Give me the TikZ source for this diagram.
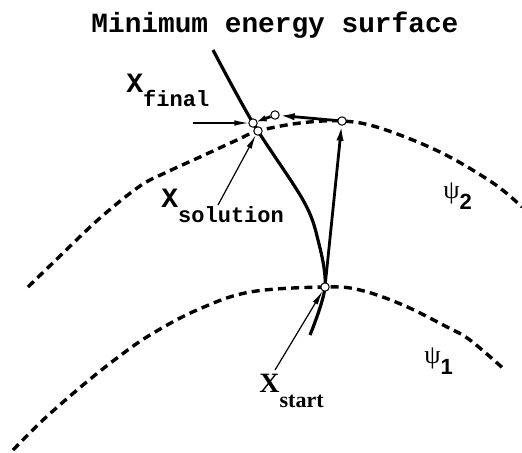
\documentclass[tikz,border=0pt]{standalone}
\usepackage{fontspec}
\setmainfont{Liberation Serif}
\newfontfamily\monofont{Liberation Mono}
\newfontfamily\sansfont{Liberation Sans}
\usepackage{tikz}
\usetikzlibrary{arrows.meta,calc,backgrounds}

% labels: big letter with a dropped subscript
\newcommand{\monolbl}[3]{{\monofont\bfseries\fontsize{14}{14}\selectfont #1}\raisebox{-#3}{\monofont\bfseries\fontsize{11}{11}\selectfont #2}}
\newcommand{\serlbl}[3]{{\bfseries\fontsize{14}{14}\selectfont #1}\raisebox{-#3}{\bfseries\fontsize{11}{11}\selectfont #2}}
\newcommand{\psilbl}[1]{{\fontsize{13}{13}\selectfont ψ}\raisebox{-5.5pt}{\sansfont\bfseries\fontsize{11}{11}\selectfont #1}}

\begin{document}
\begin{tikzpicture}[
    x=0.5pt, y=-0.5pt,
    pt/.style     ={circle, draw=black, line width=0.5pt, fill=white, minimum size=4.2pt, inner sep=0pt},
    lbl/.style    ={inner sep=0pt, anchor=base west},
    level/.style  ={line width=1.7pt, dash pattern=on 4pt off 2.6pt},
    surf/.style   ={line width=1.6pt},
    arr/.style    ={-{Latex[length=8pt,width=3.6pt]}, line width=1.4pt, shorten >=-0.5pt},
    thinarr/.style={-{Latex[length=7pt,width=2.8pt]}, line width=0.6pt}]
    \useasboundingbox (0,0) rectangle (522,452);
    % points
    \node[pt] (start) at (325,287) {};
    \node[pt] (up)    at (342,121) {};
    \node[pt] (mid)   at (275,115) {};
    \node[pt] (final) at (253,123) {};
    \node[pt] (sol)   at (258,131) {};
    \coordinate (stop) at (213,50);
    \coordinate (sbot) at (310,335);
    \begin{scope}[on background layer]
    % the two levels
    \draw[level] plot[smooth, tension=0.6] coordinates {(13,450) (43,420) (83,385) (117,358) (150,335) (197,310) (250,292) (start.center) (360,290) (403,305) (447,327) (470,340) (505,370)};
    \draw[level] plot[smooth, tension=0.6] coordinates {(28,287) (60,256) (100,218) (140,186) (167,172) (200,157) (237,140) (sol.center) (300,123) (up.center) (380,128) (440,152) (493,183) (522,207)};
    % minimum energy surface
    \draw[surf] plot[smooth, tension=0.55] coordinates {(stop) (final.center) (303,200) (318,240) (start.center) (sbot)};
    \end{scope}
    \draw[arr] (start) -- (up);
    \draw[arr] (up) -- (mid);
    \draw[arr, -{Latex[length=5pt,width=3.4pt]}] (mid) -- (final);
    % labels
    \node[lbl] (title) at (91,32) {\monofont\bfseries\fontsize{13.9}{14}\selectfont Minimum energy surface};
    \node[lbl] (xfinal) at (126,92) {\monolbl{X}{final}{7pt}};
    \node[lbl] (xsol)   at (161,207) {\monolbl{X}{solution}{7.5pt}};
    \node[lbl] (xstart) at (259,392) {\serlbl{X}{start}{7.5pt}};
    \node[lbl] (psi2)   at (443,198) {\psilbl{2}};
    \node[lbl] (psi1)   at (424,363) {\psilbl{1}};
    \coordinate (ftail) at (193,123);
    \coordinate (stail) at (218,205);
    \coordinate (xtail) at (275,370);
    \draw[thinarr] (ftail) -- (final);
    \draw[thinarr] (stail) -- (sol);
    \draw[thinarr] (xtail) -- (start);
\end{tikzpicture}
\end{document}
